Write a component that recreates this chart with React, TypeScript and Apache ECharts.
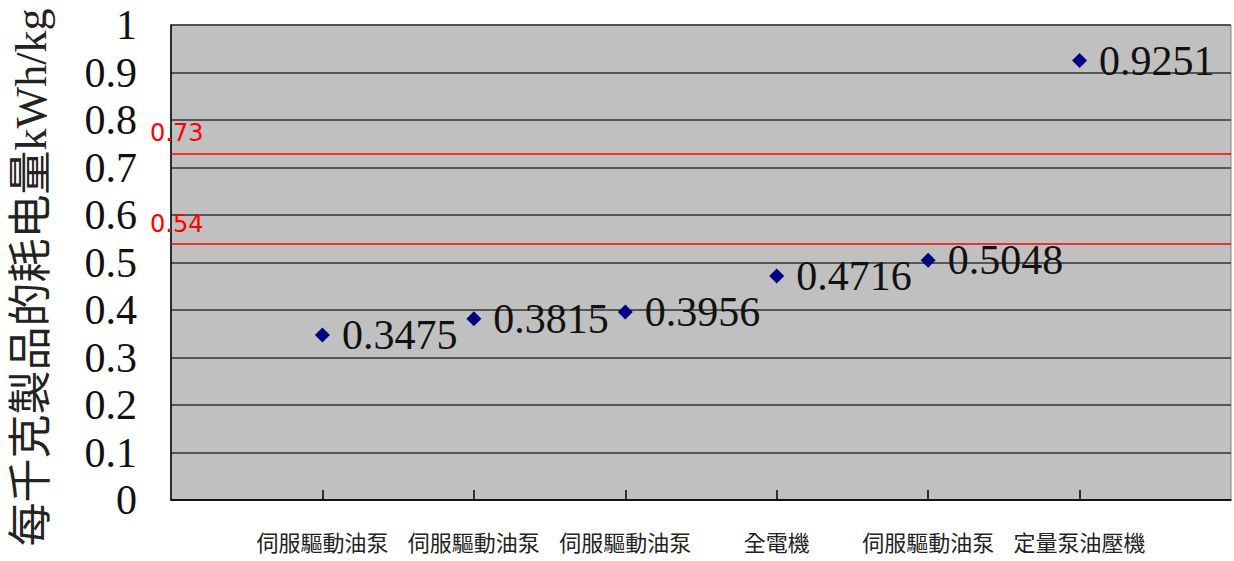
import React, { useEffect, useRef } from "react";
import * as echarts from "echarts";

const categories = ["伺服驅動油泵", "伺服驅動油泵", "伺服驅動油泵", "全電機", "伺服驅動油泵", "定量泵油壓機"];
const values = [0.3475, 0.3815, 0.3956, 0.4716, 0.5048, 0.9251];
const refLines = [0.73, 0.54];
const yAxisName = "每千克製品的耗电量kWh/kg";

export default function App() {
  const ref = useRef<HTMLDivElement>(null);
  useEffect(() => {
    document.body.style.margin = "0";
    const chart = echarts.init(ref.current!, null, { renderer: "svg" });
    const axisData = ["", ...categories, ""];
    const points = values.map((v, i) => [i + 1, v]);
    chart.setOption({
      animation: false,
      backgroundColor: "#ffffff",
      grid: {
        left: 171,
        right: 2,
        top: 25,
        bottom: 61,
        show: true,
        backgroundColor: "#C0C0C0",
        borderColor: "#808080",
        borderWidth: 1,
      },
      xAxis: {
        type: "category",
        data: axisData,
        boundaryGap: false,
        axisLine: { lineStyle: { color: "#000", width: 1.5 } },
        axisTick: {
          inside: true,
          length: 10,
          interval: (i: number) => i > 0 && i < axisData.length - 1,
          lineStyle: { color: "#000", width: 1.5 },
        },
        axisLabel: {
          interval: 0,
          margin: 30,
          fontSize: 22,
          color: "#222",
          fontFamily: "Noto Sans CJK TC",
        },
        splitLine: { show: false },
      },
      yAxis: {
        type: "value",
        min: 0,
        max: 1,
        interval: 0.1,
        name: yAxisName,
        nameLocation: "middle",
        nameRotate: 90,
        nameGap: 118,
        nameTextStyle: {
          fontSize: 44,
          color: "#222",
          fontFamily: "Liberation Serif, Noto Sans CJK TC",
          padding: [0, 0, 0, -30],
        },
        axisLine: { show: true, lineStyle: { color: "#000", width: 1.5 } },
        axisTick: { show: false },
        axisLabel: {
          margin: 34,
          fontSize: 42,
          color: "#111",
          fontFamily: "Liberation Serif",
          formatter: (v: number) => String(+v.toFixed(1)),
        },
        splitLine: { show: true, lineStyle: { color: "#333", width: 1.5 } },
      },
      series: [
        {
          type: "scatter",
          data: points,
          symbol: "diamond",
          symbolSize: 15,
          itemStyle: { color: "#000080", opacity: 1 },
          label: {
            show: true,
            position: "right",
            distance: 12,
            fontSize: 42,
            color: "#111",
            fontFamily: "Liberation Serif",
            formatter: (p: any) => String(p.value[1]),
          },
          markLine: {
            silent: true,
            symbol: "none",
            itemStyle: { color: "#ff0000" },
            lineStyle: { color: "#ff0000", width: 1.5, type: "solid", opacity: 1 },
            emphasis: { disabled: true },
            label: {
              show: true,
              position: "insideStartTop",
              distance: [-21, 8],
              color: "#ff0000",
              fontSize: 24,
              fontFamily: "DejaVu Sans",
              formatter: (p: any) => String(p.value),
            },
            data: refLines.map((v) => ({ yAxis: v })),
          },
        },
      ],
    });
    return () => chart.dispose();
  }, []);
  return <div ref={ref} style={{ width: 1234, height: 561 }} />;
}
